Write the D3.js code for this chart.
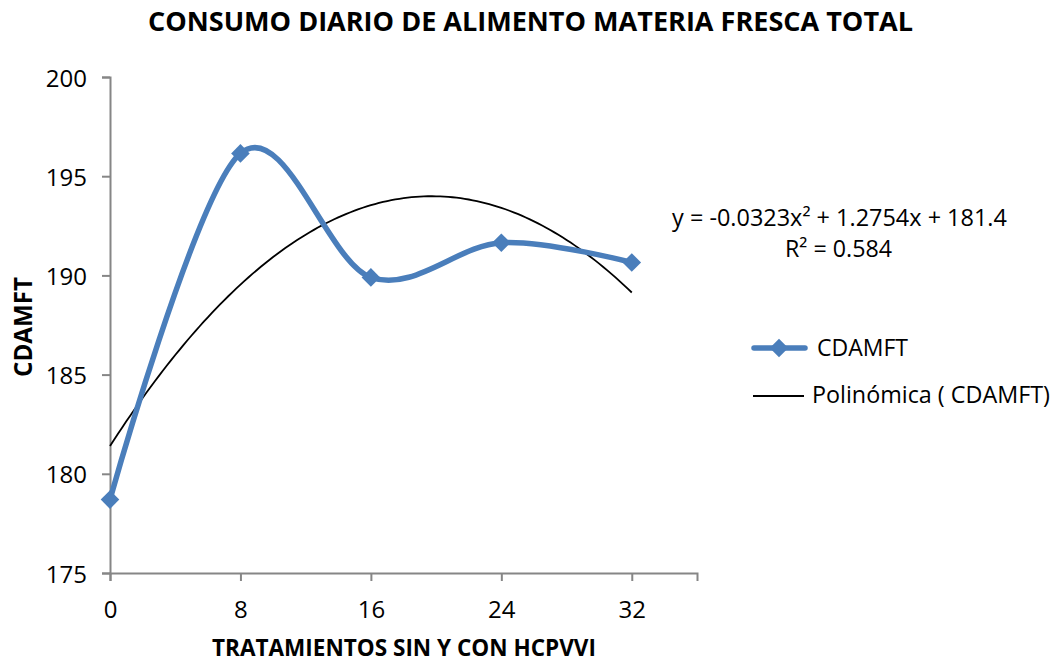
<!DOCTYPE html>
<html><head><meta charset="utf-8">
<script src="https://cdn.jsdelivr.net/npm/d3@7"></script>
<style>body{margin:0;background:#fff}svg{display:block}text{font-family:"Open Sans",sans-serif;fill:#000}</style>
</head><body><svg id="c" width="1057" height="663"></svg>
<script>
const treatments = [0, 8, 16, 24, 32];
const cdamft = [178.7, 196.15, 189.9, 191.65, 190.65];
const yTicks = [175, 180, 185, 190, 195, 200];
const xTicks = [0, 8, 16, 24, 32];
const trendCoef = [181.4, 1.2754, -0.0323]; // c0, c1, c2
const titleText = "CONSUMO DIARIO DE ALIMENTO MATERIA FRESCA TOTAL";
const xTitle = "TRATAMIENTOS SIN Y CON HCPVVI";
const yTitle = "CDAMFT";
const eqText = "y = -0.0323x² + 1.2754x + 181.4";
const r2Text = "R² = 0.584";
const legendLabels = ["CDAMFT", "Polinómica ( CDAMFT)"];

const svg = d3.select("#c");
const x = d3.scaleLinear().domain([0, 36]).range([110, 697]);
const y = d3.scaleLinear().domain([175, 200]).range([573, 77]);
const axisColor = "#868686";
const blue = "#4a7ebb";

// fit a text element's font size to a target width
function fit(sel, w) {
  const n = sel.node();
  const fs = parseFloat(sel.style("font-size"));
  const cur = n.getComputedTextLength();
  if (cur > 0) sel.style("font-size", (fs * w / cur).toFixed(2) + "px");
  return sel;
}

// axes
const gx = svg.append("g").attr("transform", `translate(0,${y(175)})`)
  .call(d3.axisBottom(x).tickValues(xTicks).tickSize(8).tickFormat(d3.format("d")));
const gy = svg.append("g").attr("transform", `translate(${x(0)},0)`)
  .call(d3.axisLeft(y).tickValues(yTicks).tickSize(8).tickPadding(15).tickFormat(d3.format("d")));
[gx, gy].forEach(g => {
  g.select(".domain").attr("stroke", axisColor).attr("stroke-width", 2);
  g.selectAll(".tick line").attr("stroke", axisColor).attr("stroke-width", 2);
  g.selectAll(".tick text").style("font-family", "'Open Sans',sans-serif").style("font-size", "24px").attr("fill", "#000");
});
gy.selectAll(".tick text").attr("dy", "0.38em");
gx.selectAll(".tick text").attr("y", 45).attr("dy", 0);

// trendline
const poly = t => trendCoef[0] + trendCoef[1] * t + trendCoef[2] * t * t;
const trendPts = d3.range(0, 32.001, 0.25).map(t => [t, poly(t)]);
svg.append("path").datum(trendPts)
  .attr("fill", "none").attr("stroke", "#000").attr("stroke-width", 1.8)
  .attr("d", d3.line().x(d => x(d[0])).y(d => y(d[1])));

// smoothed series
const data = treatments.map((t, i) => [t, cdamft[i]]);
svg.append("path").datum(data)
  .attr("fill", "none").attr("stroke", blue).attr("stroke-width", 5.5)
  .attr("stroke-linecap", "round")
  .attr("d", d3.line().curve(d3.curveCardinal.tension(0)).x(d => x(d[0])).y(d => y(d[1])));

const diamond = d3.symbol().type(d3.symbolDiamond2).size(220);
svg.selectAll(".pt").data(data).enter().append("path")
  .attr("transform", d => `translate(${x(d[0])},${y(d[1])})`)
  .attr("d", diamond).attr("fill", blue);

// titles
fit(svg.append("text").attr("x", 530.5).attr("y", 31).attr("text-anchor", "middle")
  .style("font-size", "21px").style("font-weight", "bold").text(titleText), 765);
fit(svg.append("text").attr("x", 404).attr("y", 656).attr("text-anchor", "middle")
  .style("font-size", "18px").style("font-weight", "bold").text(xTitle), 384);
fit(svg.append("text").attr("transform", "translate(32,327) rotate(-90)").attr("text-anchor", "middle")
  .style("font-size", "18px").style("font-weight", "bold").text(yTitle), 100);

// equation
fit(svg.append("text").attr("x", 839.5).attr("y", 226).attr("text-anchor", "middle")
  .style("font-size", "20px").text(eqText), 335);
fit(svg.append("text").attr("x", 838.5).attr("y", 257).attr("text-anchor", "middle")
  .style("font-size", "20px").text(r2Text), 107);

// legend
const lg = svg.append("g");
lg.append("line").attr("x1", 754).attr("x2", 805).attr("y1", 348).attr("y2", 348)
  .attr("stroke", blue).attr("stroke-width", 5.5).attr("stroke-linecap", "round");
lg.append("path").attr("transform", "translate(779,348)").attr("d", diamond).attr("fill", blue);
fit(lg.append("text").attr("x", 817).attr("y", 356).style("font-size", "20px").text(legendLabels[0]), 91);
lg.append("line").attr("x1", 753).attr("x2", 804).attr("y1", 396).attr("y2", 396)
  .attr("stroke", "#000").attr("stroke-width", 1.8);
fit(lg.append("text").attr("x", 812).attr("y", 403).style("font-size", "20px").text(legendLabels[1]), 238);
</script></body></html>
